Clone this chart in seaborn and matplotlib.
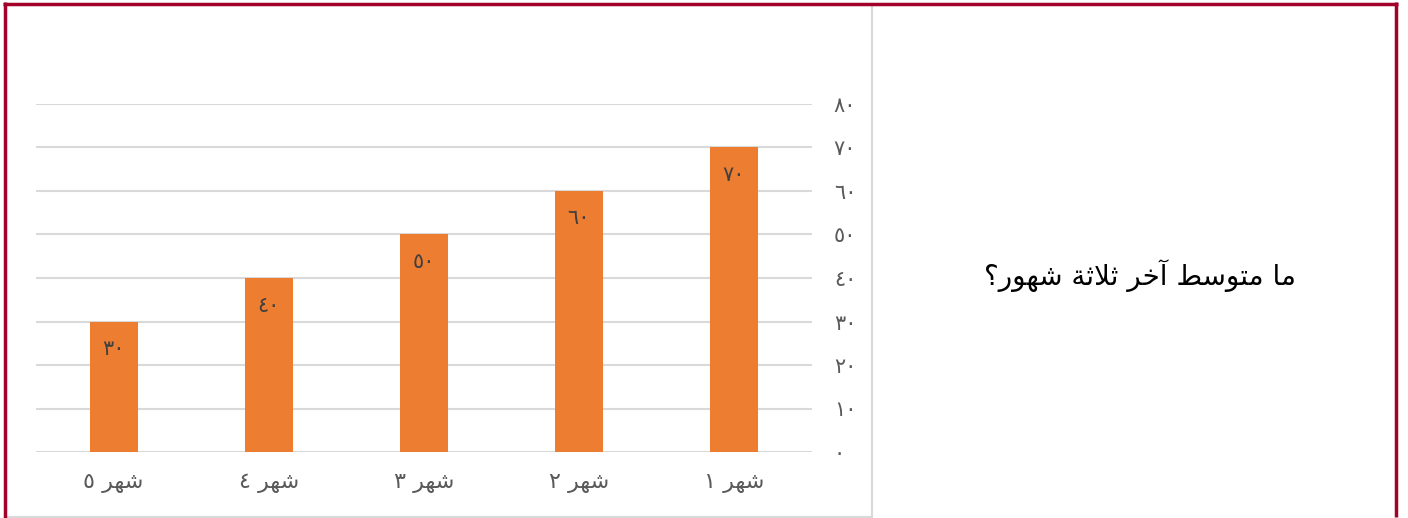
import matplotlib
matplotlib.use("Agg")
import matplotlib.pyplot as plt
import seaborn as sns
import pandas as pd
from matplotlib.lines import Line2D
from matplotlib.patches import Rectangle

# Data, in logical (reading) order
months = ["شهر ١", "شهر ٢", "شهر ٣", "شهر ٤", "شهر ٥"]
values = [70, 60, 50, 40, 30]
y_ticks = [0, 10, 20, 30, 40, 50, 60, 70, 80]
question = "ما متوسط آخر ثلاثة شهور؟"

bar_color = "#ED7D31"
frame_red = "#A3002A"
grid_gray = "#D9D9D9"
text_gray = "#595959"

# Minimal Arabic shaping (matplotlib has no bidi / joining support)
# forms: isolated, final, initial, medial
FORMS = {
    'ا': ('\uFE8D', '\uFE8E', None, None),
    'آ': ('\uFE81', '\uFE82', None, None),
    'ة': ('\uFE93', '\uFE94', None, None),
    'ت': ('\uFE95', '\uFE96', '\uFE97', '\uFE98'),
    'ث': ('\uFE99', '\uFE9A', '\uFE9B', '\uFE9C'),
    'خ': ('\uFEA5', '\uFEA6', '\uFEA7', '\uFEA8'),
    'ر': ('\uFEAD', '\uFEAE', None, None),
    'س': ('\uFEB1', '\uFEB2', '\uFEB3', '\uFEB4'),
    'ش': ('\uFEB5', '\uFEB6', '\uFEB7', '\uFEB8'),
    'ط': ('\uFEC1', '\uFEC2', '\uFEC3', '\uFEC4'),
    'ل': ('\uFEDD', '\uFEDE', '\uFEDF', '\uFEE0'),
    'م': ('\uFEE1', '\uFEE2', '\uFEE3', '\uFEE4'),
    'ه': ('\uFEE9', '\uFEEA', '\uFEEB', '\uFEEC'),
    'و': ('\uFEED', '\uFEEE', None, None),
}
LAM_ALEF = {'ا': ('\uFEFB', '\uFEFC'), 'آ': ('\uFEF5', '\uFEF6')}


def joins_next(c):
    return c in FORMS and FORMS[c][2] is not None


def shape(text):
    out = []
    chars = list(text)
    n = len(chars)
    i = 0
    while i < n:
        c = chars[i]
        if c not in FORMS:
            out.append(c)
            i += 1
            continue
        link_prev = i > 0 and joins_next(chars[i - 1])
        if c == 'ل' and i + 1 < n and chars[i + 1] in LAM_ALEF:
            iso, fin = LAM_ALEF[chars[i + 1]]
            out.append(fin if link_prev else iso)
            i += 2
            continue
        link_next = joins_next(c) and i + 1 < n and chars[i + 1] in FORMS
        iso, fin, ini, med = FORMS[c]
        if link_prev and link_next:
            out.append(med)
        elif link_prev:
            out.append(fin)
        elif link_next:
            out.append(ini)
        else:
            out.append(iso)
        i += 1
    return ''.join(reversed(out))


def arabic_digits(v):
    return str(v).translate(str.maketrans("0123456789", "٠١٢٣٤٥٦٧٨٩"))


sns.set_theme(style="white")
plt.rcParams['font.family'] = ['DejaVu Sans']

df = pd.DataFrame({"month": [shape(m) for m in months], "value": values})

fig = plt.figure(figsize=(14.08, 5.18), dpi=100)
ax = fig.add_axes([36 / 1408, 66 / 518, 775.6 / 1408, 348 / 518])

sns.barplot(data=df, x="month", y="value", color=bar_color, width=0.31,
            saturation=1, linewidth=0, ax=ax)
ax.invert_xaxis()
ax.set_ylim(0, 80)
ax.set_yticks(y_ticks)
ax.set_yticklabels([arabic_digits(t) for t in y_ticks])
ax.yaxis.tick_right()
ax.grid(axis="y", color=grid_gray, linewidth=1.5)
ax.set_axisbelow(True)
for s in ax.spines.values():
    s.set_visible(False)
ax.set(xlabel="", ylabel="")
ax.tick_params(axis="y", length=0, pad=16, labelsize=15, labelcolor=text_gray)
ax.tick_params(axis="x", length=0, pad=15, labelsize=16, labelcolor=text_gray)
for lab in ax.get_yticklabels():
    lab.set_horizontalalignment("left")

ax.bar_label(ax.containers[0], labels=[arabic_digits(v) for v in values],
             padding=-27, fontsize=15, color="#404040")

# chart frame
fig.add_artist(Rectangle((6 / 1408, 1.5 / 518), 866 / 1408, 512 / 518,
                         transform=fig.transFigure, fill=False,
                         edgecolor=grid_gray, linewidth=1.5))
# red slide border
border = dict(transform=fig.transFigure, color=frame_red, linewidth=2.5,
              solid_capstyle="butt")
fig.add_artist(Line2D([3 / 1408, 1397.5 / 1408], [1 - 3.5 / 518, 1 - 3.5 / 518], **border))
fig.add_artist(Line2D([4.5 / 1408, 4.5 / 1408], [0, 1 - 2 / 518], **border))
fig.add_artist(Line2D([1396 / 1408, 1396 / 1408], [1 / 518, 1 - 2 / 518], **border))

fig.text(1140 / 1408, 1 - 276 / 518, shape(question), ha="center", va="center",
         fontsize=20, color="black")

fig.savefig("out.png", dpi=100)
